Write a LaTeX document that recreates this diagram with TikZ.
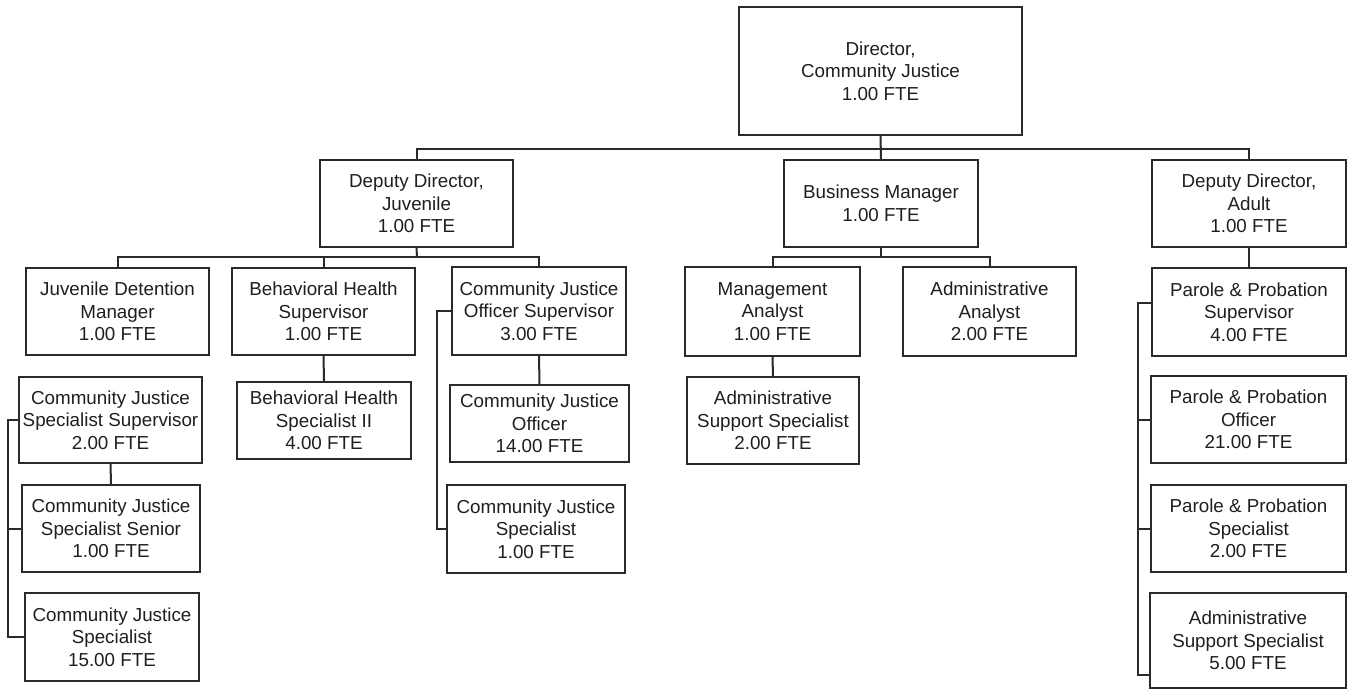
\documentclass[tikz,border=0pt]{standalone}
\usepackage{fontspec}
\setmainfont{Liberation Sans}
\begin{document}
\begin{tikzpicture}[x=1pt,y=-1pt,
  orgbox/.style={draw=boxline, line width=1.8pt, fill=white, inner sep=0pt,
    align=center, font=\fontsize{18.8}{22.5}\selectfont, text=black!88},
  link/.style={draw=boxline, line width=2pt}]
\definecolor{boxline}{HTML}{2A2A2A}
\useasboundingbox[fill=white] (0,0) rectangle (1349,692);

% box from its edges: name, left, right, top, bottom, text
\newcommand\orgbox[6]{%
  \node[orgbox, minimum width={(#3-#2)*1pt}, minimum height={(#5-#4)*1pt}]
    (#1) at ({(#2+#3)/2},{(#4+#5)/2}) {#6};}

% top levels
\orgbox{dir}{739}{1022}{7}{135}{Director,\\Community Justice\\1.00 FTE}
\orgbox{dj}{320}{513}{160}{247}{Deputy Director,\\Juvenile\\1.00 FTE}
\orgbox{bm}{784}{978}{160}{247}{Business Manager\\1.00 FTE}
\orgbox{da}{1152}{1346}{160}{247}{Deputy Director,\\Adult\\1.00 FTE}

% juvenile branch
\orgbox{jdm}{26}{209}{268}{355}{Juvenile Detention\\Manager\\1.00 FTE}
\orgbox{bhs}{232}{415}{268}{355}{Behavioral Health\\Supervisor\\1.00 FTE}
\orgbox{cjos}{452}{626}{267}{355}{Community Justice\\Officer Supervisor\\3.00 FTE}
\orgbox{cjss}{19}{202}{377}{463}{Community Justice\\Specialist Supervisor\\2.00 FTE}
\orgbox{bhs2}{237}{411}{382}{459}{Behavioral Health\\Specialist II\\4.00 FTE}
\orgbox{cjo}{450}{629}{385}{462}{Community Justice\\Officer\\14.00 FTE}
\orgbox{cjsen}{22}{200}{485}{572}{Community Justice\\Specialist Senior\\1.00 FTE}
\orgbox{cjs1}{447}{625}{485}{573}{Community Justice\\Specialist\\1.00 FTE}
\orgbox{cjs15}{25}{199}{593}{681}{Community Justice\\Specialist\\15.00 FTE}

% business branch
\orgbox{ma}{685}{860}{267}{356}{Management\\Analyst\\1.00 FTE}
\orgbox{aa}{903}{1076}{267}{356}{Administrative\\Analyst\\2.00 FTE}
\orgbox{ass2}{687}{859}{377}{464}{Administrative\\Support Specialist\\2.00 FTE}

% adult branch
\orgbox{pps}{1152}{1346}{268}{356}{Parole \& Probation\\Supervisor\\4.00 FTE}
\orgbox{ppo}{1151}{1346}{376}{463}{Parole \& Probation\\Officer\\21.00 FTE}
\orgbox{ppsp}{1151}{1346}{485}{572}{Parole \& Probation\\Specialist\\2.00 FTE}
\orgbox{ass5}{1150}{1346}{593}{688}{Administrative\\Support Specialist\\5.00 FTE}

% bus lines and bracket spines
\coordinate (topbar) at (880,149);
\coordinate (jbar) at (417,257);
\coordinate (bbar) at (881,257);
\coordinate (lspine) at (8,0);
\coordinate (mspine) at (437,0);
\coordinate (rspine) at (1138,0);
\coordinate (ppstop) at (1152,303);
\coordinate (asslow) at (1150,675);

% director to deputies and business manager
\draw[link] (dj.north) |- (topbar) -| (da.north);
\draw[link] (dir.south) -- (bm.north);

% deputy director, juvenile
\draw[link] (dj.south) -- (jbar);
\draw[link] (jdm.north) |- (jbar) -| (cjos.north);
\draw[link] (bhs.north) -- (bhs.north |- jbar);
\draw[link] (bhs.south) -- (bhs2.north);
\draw[link] (cjos.south) -- (cjo.north);
\draw[link] (cjos.west) -- (cjos.west -| mspine) |- (cjs1.west);
\draw[link] (cjss.south) -- (cjsen.north);
\draw[link] (cjss.west) -- (cjss.west -| lspine) |- (cjs15.west);
\draw[link] (cjsen.west) -- (cjsen.west -| lspine);

% business manager
\draw[link] (bm.south) -- (bbar);
\draw[link] (ma.north) |- (bbar) -| (aa.north);
\draw[link] (ma.south) -- (ass2.north);

% deputy director, adult
\draw[link] (da.south) -- (pps.north);
\draw[link] (ppstop) -- (ppstop -| rspine) |- (asslow);
\draw[link] (ppo.west) -- (ppo.west -| rspine);
\draw[link] (ppsp.west) -- (ppsp.west -| rspine);
\end{tikzpicture}
\end{document}
